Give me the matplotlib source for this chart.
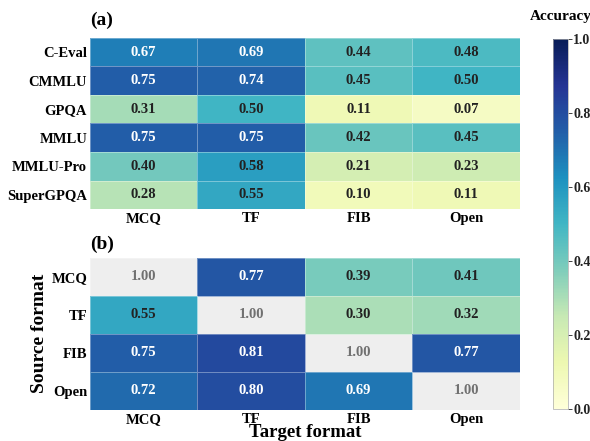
import numpy as np
import matplotlib
matplotlib.use("Agg")
import matplotlib.pyplot as plt

plt.rcParams['font.family'] = ['Liberation Serif', 'DejaVu Serif']
plt.rcParams['font.weight'] = 'bold'

#
# Data
#
formats  = ["MCQ", "TF", "FIB", "Open"]
datasets = ["C-Eval", "CMMLU", "GPQA", "MMLU", "MMLU-Pro", "SuperGPQA"]

acc_a = np.array([
    [0.67, 0.69, 0.44, 0.48],
    [0.75, 0.74, 0.45, 0.50],
    [0.31, 0.50, 0.11, 0.07],
    [0.75, 0.75, 0.42, 0.45],
    [0.40, 0.58, 0.21, 0.23],
    [0.28, 0.55, 0.10, 0.11],
])

acc_b = np.array([
    [1.00, 0.77, 0.39, 0.41],
    [0.55, 1.00, 0.30, 0.32],
    [0.75, 0.81, 1.00, 0.77],
    [0.72, 0.80, 0.69, 1.00],
])

cmap = plt.get_cmap("YlGnBu")

fig = plt.figure(figsize=(5.9, 4.41), dpi=100)
axA = fig.add_axes([0.1525, 0.526, 0.7285, 0.388])
axB = fig.add_axes([0.1525, 0.0703, 0.7285, 0.3453])
cax = fig.add_axes([0.937, 0.0726, 0.0254, 0.839])


def draw(ax, vals, rows, grey_diag=False):
    nr, nc = vals.shape
    m = vals.copy()
    if grey_diag:
        m = np.ma.masked_where(np.eye(nr, nc, dtype=bool), m)
    ax.set_facecolor("#eeeeee")
    mesh = ax.pcolormesh(m, cmap=cmap, vmin=0, vmax=1,
                         edgecolors=(1, 1, 1, 0.35), linewidth=0.5)
    ax.set_xlim(0, nc)
    ax.set_ylim(nr, 0)
    for i in range(nr):
        for j in range(nc):
            v = vals[i, j]
            if grey_diag and i == j:
                col = "#707070"
            else:
                col = "white" if v > 0.6 else "#222222"
            ax.text(j + 0.5, i + 0.5, "%.2f" % v, ha="center", va="center",
                    color=col, fontsize=10.5, fontweight="bold")
    ax.set_xticks(np.arange(nc) + 0.5)
    ax.set_xticklabels(formats, fontsize=10.5, fontweight="bold")
    ax.set_yticks(np.arange(nr) + 0.5)
    ax.set_yticklabels(rows, fontsize=10.5, fontweight="bold")
    ax.tick_params(length=0, pad=2)
    for s in ax.spines.values():
        s.set_visible(False)
    return mesh


mesh = draw(axA, acc_a, datasets)
draw(axB, acc_b, formats, grey_diag=True)

axA.set_title("(a)", loc="left", fontsize=14, fontweight="bold", pad=9)
axB.set_title("(b)", loc="left", fontsize=14, fontweight="bold", pad=6)
axB.set_ylabel("Source format", fontsize=14, fontweight="bold")
axB.yaxis.set_label_coords(-0.098, 0.5)
axB.set_xlabel("Target format", fontsize=13.5, fontweight="bold", labelpad=-1)

cb = fig.colorbar(mesh, cax=cax)
cb.set_ticks([0, 0.2, 0.4, 0.6, 0.8, 1.0])
cb.ax.tick_params(labelsize=10, length=3, width=0.6, pad=1, colors="#222222")
cb.outline.set_linewidth(0.5)
cb.outline.set_edgecolor("#aaaaaa")
cb.ax.set_title("Accuracy", fontsize=11, fontweight="bold", pad=14)

fig.savefig("out.png", dpi=100)
